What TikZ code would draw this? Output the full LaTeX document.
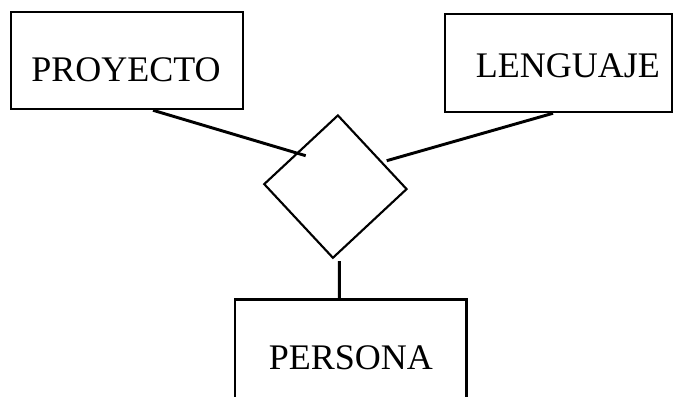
\documentclass[tikz,border=0pt]{standalone}
\usepackage{fontspec}
\setmainfont{Liberation Serif}
\usetikzlibrary{shapes.geometric}

\begin{document}
\begin{tikzpicture}[x=0.75pt,y=-0.75pt,
    every node/.style={font=\fontsize{27}{32}\selectfont},
    entity/.style={shape=rectangle, draw, line width=1.9pt, inner sep=0pt},
    rel/.style={shape=diamond, draw, line width=1.6pt, inner sep=0pt,
      minimum width=107.5pt, minimum height=107.5pt, rotate=-2},
    link/.style={line width=2.2pt}]
    \useasboundingbox (0,0) rectangle (673,396);
    \clip (0,0) rectangle (673,396);

    \node[entity, minimum width=174pt, minimum height=72.75pt,
      label={[xshift=-0.75pt, yshift=-7pt]center:PROYECTO}] (proyecto) at (127,60.5) {};
    \node[entity, minimum width=170.25pt, minimum height=73.5pt,
      label={[xshift=7pt, yshift=-2.3pt]center:LENGUAJE}] (lenguaje) at (558.5,63) {};
    \node[entity, minimum width=173.8pt, minimum height=87.3pt] (persona) at (350.85,357.5) {PERSONA};
    \node[rel] (rel) at (335.4,186.6) {};

    \coordinate (pend) at (305.7,155.7);
    \coordinate (lend) at (386.7,160.7);
    \coordinate (send) at (339.3,261);
    \draw[link] (proyecto.south) ++(26,0) -- (pend);
    \draw[link] (lenguaje.south) ++(-5.5,0) -- (lend);
    \draw[link] (persona.north) ++(-11.55,0) -- (send);
  \end{tikzpicture}
\end{document}
